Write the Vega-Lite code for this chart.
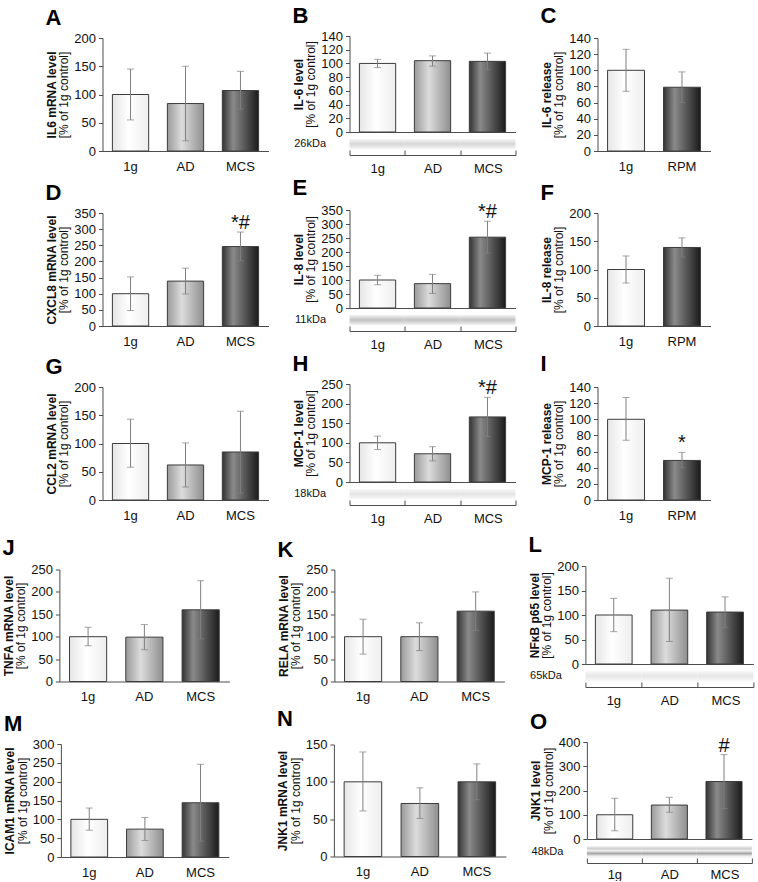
{
  "$schema": "https://vega.github.io/schema/vega-lite/v6.json",
  "background": "white",
  "padding": {"left": 2, "right": 2, "top": 5, "bottom": 0},
  "data": {"name": "d"},
  "datasets": {
    "d": [
      {"p": "A", "g": "1g", "m": 100, "lo": 55, "hi": 145},
      {"p": "A", "g": "AD", "m": 84, "lo": 18, "hi": 150},
      {"p": "A", "g": "MCS", "m": 107, "lo": 74, "hi": 141},
      {"p": "B", "g": "1g", "m": 100, "lo": 94, "hi": 106, "kd": "26kDa"},
      {"p": "B", "g": "AD", "m": 104, "lo": 96, "hi": 111, "kd": "26kDa"},
      {"p": "B", "g": "MCS", "m": 103, "lo": 91, "hi": 115, "kd": "26kDa"},
      {"p": "C", "g": "1g", "m": 100, "lo": 74, "hi": 126},
      {"p": "C", "g": "RPM", "m": 79, "lo": 60, "hi": 98},
      {"p": "D", "g": "1g", "m": 100, "lo": 48, "hi": 152},
      {"p": "D", "g": "AD", "m": 139, "lo": 99, "hi": 179},
      {"p": "D", "g": "MCS", "m": 246, "lo": 202, "hi": 291, "s": "*#"},
      {"p": "E", "g": "1g", "m": 100, "lo": 83, "hi": 117, "kd": "11kDa"},
      {"p": "E", "g": "AD", "m": 87, "lo": 52, "hi": 120, "kd": "11kDa"},
      {"p": "E", "g": "MCS", "m": 253, "lo": 196, "hi": 310, "s": "*#", "kd": "11kDa"},
      {"p": "F", "g": "1g", "m": 100, "lo": 76, "hi": 124},
      {"p": "F", "g": "RPM", "m": 139, "lo": 122, "hi": 156},
      {"p": "G", "g": "1g", "m": 100, "lo": 58, "hi": 143},
      {"p": "G", "g": "AD", "m": 62, "lo": 23, "hi": 101},
      {"p": "G", "g": "MCS", "m": 85, "lo": 12, "hi": 157},
      {"p": "H", "g": "1g", "m": 100, "lo": 83, "hi": 117, "kd": "18kDa"},
      {"p": "H", "g": "AD", "m": 72, "lo": 54, "hi": 90, "kd": "18kDa"},
      {"p": "H", "g": "MCS", "m": 166, "lo": 116, "hi": 216, "s": "*#", "kd": "18kDa"},
      {"p": "I", "g": "1g", "m": 100, "lo": 74, "hi": 127},
      {"p": "I", "g": "RPM", "m": 49, "lo": 40, "hi": 59, "s": "*"},
      {"p": "J", "g": "1g", "m": 100, "lo": 80, "hi": 121},
      {"p": "J", "g": "AD", "m": 99, "lo": 71, "hi": 127},
      {"p": "J", "g": "MCS", "m": 160, "lo": 95, "hi": 225},
      {"p": "K", "g": "1g", "m": 100, "lo": 61, "hi": 139},
      {"p": "K", "g": "AD", "m": 100, "lo": 69, "hi": 131},
      {"p": "K", "g": "MCS", "m": 157, "lo": 114, "hi": 200},
      {"p": "L", "g": "1g", "m": 100, "lo": 66, "hi": 134, "kd": "65kDa"},
      {"p": "L", "g": "AD", "m": 110, "lo": 46, "hi": 175, "kd": "65kDa"},
      {"p": "L", "g": "MCS", "m": 106, "lo": 75, "hi": 137, "kd": "65kDa"},
      {"p": "M", "g": "1g", "m": 100, "lo": 71, "hi": 130},
      {"p": "M", "g": "AD", "m": 74, "lo": 44, "hi": 105},
      {"p": "M", "g": "MCS", "m": 144, "lo": 42, "hi": 246},
      {"p": "N", "g": "1g", "m": 100, "lo": 61, "hi": 140},
      {"p": "N", "g": "AD", "m": 71, "lo": 51, "hi": 92},
      {"p": "N", "g": "MCS", "m": 100, "lo": 76, "hi": 124},
      {"p": "O", "g": "1g", "m": 100, "lo": 34, "hi": 168, "kd": "48kDa"},
      {"p": "O", "g": "AD", "m": 140, "lo": 110, "hi": 172, "kd": "48kDa"},
      {"p": "O", "g": "MCS", "m": 237, "lo": 126, "hi": 348, "s": "#", "kd": "48kDa"}
    ]
  },
  "config": {
    "font": "Liberation Sans",
    "view": {"stroke": null},
    "axis": {"labelFont": "Liberation Sans", "titleFont": "Liberation Sans", "labelFontSize": 13, "labelColor": "#111111", "titleColor": "#111111", "titleFontSize": 12, "domainColor": "#4d4d4d", "tickColor": "#4d4d4d", "grid": false},
    "axisX": {"ticks": false, "labelAngle": 0, "labelPadding": 9},
    "axisY": {"tickSize": 4, "titleFontWeight": "normal", "titlePadding": 3, "labelPadding": 3},
    "title": {"font": "Liberation Sans", "fontSize": 22, "fontWeight": "bold", "anchor": "start", "frame": "bounds", "color": "#000000", "offset": 2},
    "text": {"font": "Liberation Sans", "fontSize": 20, "color": "#111111"}
  },
  "spacing": 9,
  "center": true,
  "vconcat": [
    {
      "spacing": 2,
      "center": true,
      "vconcat": [
        {
          "spacing": 24,
          "center": true,
          "hconcat": [
            {"title": "A", "vconcat": [{
              "width": 166, "height": 113,
              "transform": [{"filter": "datum.p === 'A'"}],
              "encoding": {"x": {"field": "g", "type": "nominal", "sort": null, "title": null, "scale": {"paddingInner": 0.34, "paddingOuter": 0.18}}},
              "layer": [
                {"mark": {"type": "bar", "stroke": "#3c3c3c", "strokeWidth": 1}, "encoding": {
                  "y": {"field": "m", "type": "quantitative", "scale": {"domain": [0, 200]}, "axis": {"orient": "left", "values": [0, 50, 100, 150, 200], "title": "[% of 1g control]"}},
                  "fill": {"condition": [
                    {"test": "datum.g === '1g'", "value": {"gradient": "linear", "x1": 0, "y1": 0, "x2": 1, "y2": 0, "stops": [{"offset": 0, "color": "#e6e6e6"}, {"offset": 0.45, "color": "#ffffff"}, {"offset": 1, "color": "#eeeeee"}]}},
                    {"test": "datum.g === 'AD'", "value": {"gradient": "linear", "x1": 0, "y1": 0, "x2": 1, "y2": 0, "stops": [{"offset": 0, "color": "#9a9a9a"}, {"offset": 0.4, "color": "#dcdcdc"}, {"offset": 1, "color": "#8f8f8f"}]}}],
                    "value": {"gradient": "linear", "x1": 0, "y1": 0, "x2": 1, "y2": 0, "stops": [{"offset": 0, "color": "#333333"}, {"offset": 0.3, "color": "#8a8a8a"}, {"offset": 1, "color": "#1a1a1a"}]}}}},
                {"mark": {"type": "errorbar", "color": "#808080", "ticks": {"size": 7}}, "encoding": {"y": {"field": "lo", "type": "quantitative", "scale": {"domain": [0, 200]}, "axis": null}, "y2": {"field": "hi"}}},
                {"mark": {"type": "text", "dy": -3, "baseline": "alphabetic"}, "encoding": {
                  "y": {"field": "hi", "type": "quantitative", "scale": {"domain": [0, 200]}, "axis": {"orient": "left", "title": "IL6 mRNA level", "titleFontWeight": "bold", "labels": false, "ticks": false, "domain": false, "offset": 44, "titlePadding": 0}},
                  "text": {"condition": {"test": "isValid(datum.s)", "field": "s", "type": "nominal"}, "value": ""}}}
              ],
              "resolve": {"axis": {"y": "independent"}}
            }]},
            {"title": "B", "spacing": -3, "vconcat": [
              {
                "width": 166, "height": 96,
                "transform": [{"filter": "datum.p === 'B'"}],
                "encoding": {"x": {"field": "g", "type": "nominal", "sort": null, "title": null, "scale": {"paddingInner": 0.34, "paddingOuter": 0.18}, "axis": {"labels": false, "labelPadding": 0, "minExtent": 0, "maxExtent": 0}}},
                "layer": [
                  {"mark": {"type": "bar", "stroke": "#3c3c3c", "strokeWidth": 1}, "encoding": {
                    "y": {"field": "m", "type": "quantitative", "scale": {"domain": [0, 140]}, "axis": {"orient": "left", "values": [0, 20, 40, 60, 80, 100, 120, 140], "title": "[% of 1g control]"}},
                    "fill": {"condition": [
                      {"test": "datum.g === '1g'", "value": {"gradient": "linear", "x1": 0, "y1": 0, "x2": 1, "y2": 0, "stops": [{"offset": 0, "color": "#e6e6e6"}, {"offset": 0.45, "color": "#ffffff"}, {"offset": 1, "color": "#eeeeee"}]}},
                      {"test": "datum.g === 'AD'", "value": {"gradient": "linear", "x1": 0, "y1": 0, "x2": 1, "y2": 0, "stops": [{"offset": 0, "color": "#9a9a9a"}, {"offset": 0.4, "color": "#dcdcdc"}, {"offset": 1, "color": "#8f8f8f"}]}}],
                      "value": {"gradient": "linear", "x1": 0, "y1": 0, "x2": 1, "y2": 0, "stops": [{"offset": 0, "color": "#333333"}, {"offset": 0.3, "color": "#8a8a8a"}, {"offset": 1, "color": "#1a1a1a"}]}}}},
                  {"mark": {"type": "errorbar", "color": "#808080", "ticks": {"size": 7}}, "encoding": {"y": {"field": "lo", "type": "quantitative", "scale": {"domain": [0, 140]}, "axis": null}, "y2": {"field": "hi"}}},
                  {"mark": {"type": "text", "dy": -3, "baseline": "alphabetic"}, "encoding": {
                    "y": {"field": "hi", "type": "quantitative", "scale": {"domain": [0, 140]}, "axis": {"orient": "left", "title": "IL-6 level", "titleFontWeight": "bold", "labels": false, "ticks": false, "domain": false, "offset": 44, "titlePadding": 0}},
                    "text": {"condition": {"test": "isValid(datum.s)", "field": "s", "type": "nominal"}, "value": ""}}}
                ],
                "resolve": {"axis": {"y": "independent"}}
              },
              {
                "width": 166, "height": 10,
                "transform": [{"filter": "datum.p === 'B'"}],
                "mark": {"type": "rect", "fill": {"gradient": "linear", "x1": 0, "y1": 0, "x2": 0, "y2": 1, "stops": [{"offset": 0, "color": "#f6f6f6"}, {"offset": 0.5, "color": "#d6d6d6"}, {"offset": 1, "color": "#f6f6f6"}]}},
                "encoding": {
                  "x": {"field": "g", "type": "nominal", "sort": null, "title": null, "scale": {"paddingInner": 0, "paddingOuter": 0}, "axis": {"tickBand": "extent", "ticks": true, "tickSize": -5, "offset": 6, "labelPadding": 12}},
                  "y": {"field": "kd", "type": "nominal", "title": null, "axis": {"ticks": false, "domain": false, "labelFontSize": 11, "labelPadding": 24}}
                }
              }
            ]},
            {"title": "C", "vconcat": [{
              "width": 113, "height": 113,
              "transform": [{"filter": "datum.p === 'C'"}],
              "encoding": {"x": {"field": "g", "type": "nominal", "sort": null, "title": null, "scale": {"paddingInner": 0.34, "paddingOuter": 0.18}}},
              "layer": [
                {"mark": {"type": "bar", "stroke": "#3c3c3c", "strokeWidth": 1}, "encoding": {
                  "y": {"field": "m", "type": "quantitative", "scale": {"domain": [0, 140]}, "axis": {"orient": "left", "values": [0, 20, 40, 60, 80, 100, 120, 140], "title": "[% of 1g control]"}},
                  "fill": {"condition": [
                    {"test": "datum.g === '1g'", "value": {"gradient": "linear", "x1": 0, "y1": 0, "x2": 1, "y2": 0, "stops": [{"offset": 0, "color": "#e6e6e6"}, {"offset": 0.45, "color": "#ffffff"}, {"offset": 1, "color": "#eeeeee"}]}},
                    {"test": "datum.g === 'AD'", "value": {"gradient": "linear", "x1": 0, "y1": 0, "x2": 1, "y2": 0, "stops": [{"offset": 0, "color": "#9a9a9a"}, {"offset": 0.4, "color": "#dcdcdc"}, {"offset": 1, "color": "#8f8f8f"}]}}],
                    "value": {"gradient": "linear", "x1": 0, "y1": 0, "x2": 1, "y2": 0, "stops": [{"offset": 0, "color": "#333333"}, {"offset": 0.3, "color": "#8a8a8a"}, {"offset": 1, "color": "#1a1a1a"}]}}}},
                {"mark": {"type": "errorbar", "color": "#808080", "ticks": {"size": 7}}, "encoding": {"y": {"field": "lo", "type": "quantitative", "scale": {"domain": [0, 140]}, "axis": null}, "y2": {"field": "hi"}}},
                {"mark": {"type": "text", "dy": -3, "baseline": "alphabetic"}, "encoding": {
                  "y": {"field": "hi", "type": "quantitative", "scale": {"domain": [0, 140]}, "axis": {"orient": "left", "title": "IL-6 release", "titleFontWeight": "bold", "labels": false, "ticks": false, "domain": false, "offset": 44, "titlePadding": 0}},
                  "text": {"condition": {"test": "isValid(datum.s)", "field": "s", "type": "nominal"}, "value": ""}}}
              ],
              "resolve": {"axis": {"y": "independent"}}
            }]}
          ]
        },
        {
          "spacing": 24,
          "center": true,
          "hconcat": [
            {"title": "D", "vconcat": [{
              "width": 166, "height": 113,
              "transform": [{"filter": "datum.p === 'D'"}],
              "encoding": {"x": {"field": "g", "type": "nominal", "sort": null, "title": null, "scale": {"paddingInner": 0.34, "paddingOuter": 0.18}}},
              "layer": [
                {"mark": {"type": "bar", "stroke": "#3c3c3c", "strokeWidth": 1}, "encoding": {
                  "y": {"field": "m", "type": "quantitative", "scale": {"domain": [0, 350]}, "axis": {"orient": "left", "values": [0, 50, 100, 150, 200, 250, 300, 350], "title": "[% of 1g control]"}},
                  "fill": {"condition": [
                    {"test": "datum.g === '1g'", "value": {"gradient": "linear", "x1": 0, "y1": 0, "x2": 1, "y2": 0, "stops": [{"offset": 0, "color": "#e6e6e6"}, {"offset": 0.45, "color": "#ffffff"}, {"offset": 1, "color": "#eeeeee"}]}},
                    {"test": "datum.g === 'AD'", "value": {"gradient": "linear", "x1": 0, "y1": 0, "x2": 1, "y2": 0, "stops": [{"offset": 0, "color": "#9a9a9a"}, {"offset": 0.4, "color": "#dcdcdc"}, {"offset": 1, "color": "#8f8f8f"}]}}],
                    "value": {"gradient": "linear", "x1": 0, "y1": 0, "x2": 1, "y2": 0, "stops": [{"offset": 0, "color": "#333333"}, {"offset": 0.3, "color": "#8a8a8a"}, {"offset": 1, "color": "#1a1a1a"}]}}}},
                {"mark": {"type": "errorbar", "color": "#808080", "ticks": {"size": 7}}, "encoding": {"y": {"field": "lo", "type": "quantitative", "scale": {"domain": [0, 350]}, "axis": null}, "y2": {"field": "hi"}}},
                {"mark": {"type": "text", "dy": -3, "baseline": "alphabetic"}, "encoding": {
                  "y": {"field": "hi", "type": "quantitative", "scale": {"domain": [0, 350]}, "axis": {"orient": "left", "title": "CXCL8 mRNA level", "titleFontWeight": "bold", "labels": false, "ticks": false, "domain": false, "offset": 44, "titlePadding": 0}},
                  "text": {"condition": {"test": "isValid(datum.s)", "field": "s", "type": "nominal"}, "value": ""}}}
              ],
              "resolve": {"axis": {"y": "independent"}}
            }]},
            {"title": "E", "spacing": -3, "vconcat": [
              {
                "width": 166, "height": 98,
                "transform": [{"filter": "datum.p === 'E'"}],
                "encoding": {"x": {"field": "g", "type": "nominal", "sort": null, "title": null, "scale": {"paddingInner": 0.34, "paddingOuter": 0.18}, "axis": {"labels": false, "labelPadding": 0, "minExtent": 0, "maxExtent": 0}}},
                "layer": [
                  {"mark": {"type": "bar", "stroke": "#3c3c3c", "strokeWidth": 1}, "encoding": {
                    "y": {"field": "m", "type": "quantitative", "scale": {"domain": [0, 350]}, "axis": {"orient": "left", "values": [0, 50, 100, 150, 200, 250, 300, 350], "title": "[% of 1g control]"}},
                    "fill": {"condition": [
                      {"test": "datum.g === '1g'", "value": {"gradient": "linear", "x1": 0, "y1": 0, "x2": 1, "y2": 0, "stops": [{"offset": 0, "color": "#e6e6e6"}, {"offset": 0.45, "color": "#ffffff"}, {"offset": 1, "color": "#eeeeee"}]}},
                      {"test": "datum.g === 'AD'", "value": {"gradient": "linear", "x1": 0, "y1": 0, "x2": 1, "y2": 0, "stops": [{"offset": 0, "color": "#9a9a9a"}, {"offset": 0.4, "color": "#dcdcdc"}, {"offset": 1, "color": "#8f8f8f"}]}}],
                      "value": {"gradient": "linear", "x1": 0, "y1": 0, "x2": 1, "y2": 0, "stops": [{"offset": 0, "color": "#333333"}, {"offset": 0.3, "color": "#8a8a8a"}, {"offset": 1, "color": "#1a1a1a"}]}}}},
                  {"mark": {"type": "errorbar", "color": "#808080", "ticks": {"size": 7}}, "encoding": {"y": {"field": "lo", "type": "quantitative", "scale": {"domain": [0, 350]}, "axis": null}, "y2": {"field": "hi"}}},
                  {"mark": {"type": "text", "dy": -3, "baseline": "alphabetic"}, "encoding": {
                    "y": {"field": "hi", "type": "quantitative", "scale": {"domain": [0, 350]}, "axis": {"orient": "left", "title": "IL-8 level", "titleFontWeight": "bold", "labels": false, "ticks": false, "domain": false, "offset": 44, "titlePadding": 0}},
                    "text": {"condition": {"test": "isValid(datum.s)", "field": "s", "type": "nominal"}, "value": ""}}}
                ],
                "resolve": {"axis": {"y": "independent"}}
              },
              {
                "width": 166, "height": 10,
                "transform": [{"filter": "datum.p === 'E'"}],
                "mark": {"type": "rect", "fill": {"gradient": "linear", "x1": 0, "y1": 0, "x2": 0, "y2": 1, "stops": [{"offset": 0, "color": "#f3f3f3"}, {"offset": 0.5, "color": "#c2c2c2"}, {"offset": 1, "color": "#f3f3f3"}]}},
                "encoding": {
                  "x": {"field": "g", "type": "nominal", "sort": null, "title": null, "scale": {"paddingInner": 0, "paddingOuter": 0}, "axis": {"tickBand": "extent", "ticks": true, "tickSize": -5, "offset": 6, "labelPadding": 12}},
                  "y": {"field": "kd", "type": "nominal", "title": null, "axis": {"ticks": false, "domain": false, "labelFontSize": 11, "labelPadding": 24}}
                }
              }
            ]},
            {"title": "F", "vconcat": [{
              "width": 113, "height": 113,
              "transform": [{"filter": "datum.p === 'F'"}],
              "encoding": {"x": {"field": "g", "type": "nominal", "sort": null, "title": null, "scale": {"paddingInner": 0.34, "paddingOuter": 0.18}}},
              "layer": [
                {"mark": {"type": "bar", "stroke": "#3c3c3c", "strokeWidth": 1}, "encoding": {
                  "y": {"field": "m", "type": "quantitative", "scale": {"domain": [0, 200]}, "axis": {"orient": "left", "values": [0, 50, 100, 150, 200], "title": "[% of 1g control]"}},
                  "fill": {"condition": [
                    {"test": "datum.g === '1g'", "value": {"gradient": "linear", "x1": 0, "y1": 0, "x2": 1, "y2": 0, "stops": [{"offset": 0, "color": "#e6e6e6"}, {"offset": 0.45, "color": "#ffffff"}, {"offset": 1, "color": "#eeeeee"}]}},
                    {"test": "datum.g === 'AD'", "value": {"gradient": "linear", "x1": 0, "y1": 0, "x2": 1, "y2": 0, "stops": [{"offset": 0, "color": "#9a9a9a"}, {"offset": 0.4, "color": "#dcdcdc"}, {"offset": 1, "color": "#8f8f8f"}]}}],
                    "value": {"gradient": "linear", "x1": 0, "y1": 0, "x2": 1, "y2": 0, "stops": [{"offset": 0, "color": "#333333"}, {"offset": 0.3, "color": "#8a8a8a"}, {"offset": 1, "color": "#1a1a1a"}]}}}},
                {"mark": {"type": "errorbar", "color": "#808080", "ticks": {"size": 7}}, "encoding": {"y": {"field": "lo", "type": "quantitative", "scale": {"domain": [0, 200]}, "axis": null}, "y2": {"field": "hi"}}},
                {"mark": {"type": "text", "dy": -3, "baseline": "alphabetic"}, "encoding": {
                  "y": {"field": "hi", "type": "quantitative", "scale": {"domain": [0, 200]}, "axis": {"orient": "left", "title": "IL-8 release", "titleFontWeight": "bold", "labels": false, "ticks": false, "domain": false, "offset": 44, "titlePadding": 0}},
                  "text": {"condition": {"test": "isValid(datum.s)", "field": "s", "type": "nominal"}, "value": ""}}}
              ],
              "resolve": {"axis": {"y": "independent"}}
            }]}
          ]
        },
        {
          "spacing": 24,
          "center": true,
          "hconcat": [
            {"title": "G", "vconcat": [{
              "width": 166, "height": 113,
              "transform": [{"filter": "datum.p === 'G'"}],
              "encoding": {"x": {"field": "g", "type": "nominal", "sort": null, "title": null, "scale": {"paddingInner": 0.34, "paddingOuter": 0.18}}},
              "layer": [
                {"mark": {"type": "bar", "stroke": "#3c3c3c", "strokeWidth": 1}, "encoding": {
                  "y": {"field": "m", "type": "quantitative", "scale": {"domain": [0, 200]}, "axis": {"orient": "left", "values": [0, 50, 100, 150, 200], "title": "[% of 1g control]"}},
                  "fill": {"condition": [
                    {"test": "datum.g === '1g'", "value": {"gradient": "linear", "x1": 0, "y1": 0, "x2": 1, "y2": 0, "stops": [{"offset": 0, "color": "#e6e6e6"}, {"offset": 0.45, "color": "#ffffff"}, {"offset": 1, "color": "#eeeeee"}]}},
                    {"test": "datum.g === 'AD'", "value": {"gradient": "linear", "x1": 0, "y1": 0, "x2": 1, "y2": 0, "stops": [{"offset": 0, "color": "#9a9a9a"}, {"offset": 0.4, "color": "#dcdcdc"}, {"offset": 1, "color": "#8f8f8f"}]}}],
                    "value": {"gradient": "linear", "x1": 0, "y1": 0, "x2": 1, "y2": 0, "stops": [{"offset": 0, "color": "#333333"}, {"offset": 0.3, "color": "#8a8a8a"}, {"offset": 1, "color": "#1a1a1a"}]}}}},
                {"mark": {"type": "errorbar", "color": "#808080", "ticks": {"size": 7}}, "encoding": {"y": {"field": "lo", "type": "quantitative", "scale": {"domain": [0, 200]}, "axis": null}, "y2": {"field": "hi"}}},
                {"mark": {"type": "text", "dy": -3, "baseline": "alphabetic"}, "encoding": {
                  "y": {"field": "hi", "type": "quantitative", "scale": {"domain": [0, 200]}, "axis": {"orient": "left", "title": "CCL2 mRNA level", "titleFontWeight": "bold", "labels": false, "ticks": false, "domain": false, "offset": 44, "titlePadding": 0}},
                  "text": {"condition": {"test": "isValid(datum.s)", "field": "s", "type": "nominal"}, "value": ""}}}
              ],
              "resolve": {"axis": {"y": "independent"}}
            }]},
            {"title": "H", "spacing": -3, "vconcat": [
              {
                "width": 166, "height": 98,
                "transform": [{"filter": "datum.p === 'H'"}],
                "encoding": {"x": {"field": "g", "type": "nominal", "sort": null, "title": null, "scale": {"paddingInner": 0.34, "paddingOuter": 0.18}, "axis": {"labels": false, "labelPadding": 0, "minExtent": 0, "maxExtent": 0}}},
                "layer": [
                  {"mark": {"type": "bar", "stroke": "#3c3c3c", "strokeWidth": 1}, "encoding": {
                    "y": {"field": "m", "type": "quantitative", "scale": {"domain": [0, 250]}, "axis": {"orient": "left", "values": [0, 50, 100, 150, 200, 250], "title": "[% of 1g control]"}},
                    "fill": {"condition": [
                      {"test": "datum.g === '1g'", "value": {"gradient": "linear", "x1": 0, "y1": 0, "x2": 1, "y2": 0, "stops": [{"offset": 0, "color": "#e6e6e6"}, {"offset": 0.45, "color": "#ffffff"}, {"offset": 1, "color": "#eeeeee"}]}},
                      {"test": "datum.g === 'AD'", "value": {"gradient": "linear", "x1": 0, "y1": 0, "x2": 1, "y2": 0, "stops": [{"offset": 0, "color": "#9a9a9a"}, {"offset": 0.4, "color": "#dcdcdc"}, {"offset": 1, "color": "#8f8f8f"}]}}],
                      "value": {"gradient": "linear", "x1": 0, "y1": 0, "x2": 1, "y2": 0, "stops": [{"offset": 0, "color": "#333333"}, {"offset": 0.3, "color": "#8a8a8a"}, {"offset": 1, "color": "#1a1a1a"}]}}}},
                  {"mark": {"type": "errorbar", "color": "#808080", "ticks": {"size": 7}}, "encoding": {"y": {"field": "lo", "type": "quantitative", "scale": {"domain": [0, 250]}, "axis": null}, "y2": {"field": "hi"}}},
                  {"mark": {"type": "text", "dy": -3, "baseline": "alphabetic"}, "encoding": {
                    "y": {"field": "hi", "type": "quantitative", "scale": {"domain": [0, 250]}, "axis": {"orient": "left", "title": "MCP-1 level", "titleFontWeight": "bold", "labels": false, "ticks": false, "domain": false, "offset": 44, "titlePadding": 0}},
                    "text": {"condition": {"test": "isValid(datum.s)", "field": "s", "type": "nominal"}, "value": ""}}}
                ],
                "resolve": {"axis": {"y": "independent"}}
              },
              {
                "width": 166, "height": 10,
                "transform": [{"filter": "datum.p === 'H'"}],
                "mark": {"type": "rect", "fill": {"gradient": "linear", "x1": 0, "y1": 0, "x2": 0, "y2": 1, "stops": [{"offset": 0, "color": "#f8f8f8"}, {"offset": 0.5, "color": "#e4e4e4"}, {"offset": 1, "color": "#f8f8f8"}]}},
                "encoding": {
                  "x": {"field": "g", "type": "nominal", "sort": null, "title": null, "scale": {"paddingInner": 0, "paddingOuter": 0}, "axis": {"tickBand": "extent", "ticks": true, "tickSize": -5, "offset": 6, "labelPadding": 12}},
                  "y": {"field": "kd", "type": "nominal", "title": null, "axis": {"ticks": false, "domain": false, "labelFontSize": 11, "labelPadding": 24}}
                }
              }
            ]},
            {"title": "I", "vconcat": [{
              "width": 113, "height": 113,
              "transform": [{"filter": "datum.p === 'I'"}],
              "encoding": {"x": {"field": "g", "type": "nominal", "sort": null, "title": null, "scale": {"paddingInner": 0.34, "paddingOuter": 0.18}}},
              "layer": [
                {"mark": {"type": "bar", "stroke": "#3c3c3c", "strokeWidth": 1}, "encoding": {
                  "y": {"field": "m", "type": "quantitative", "scale": {"domain": [0, 140]}, "axis": {"orient": "left", "values": [0, 20, 40, 60, 80, 100, 120, 140], "title": "[% of 1g control]"}},
                  "fill": {"condition": [
                    {"test": "datum.g === '1g'", "value": {"gradient": "linear", "x1": 0, "y1": 0, "x2": 1, "y2": 0, "stops": [{"offset": 0, "color": "#e6e6e6"}, {"offset": 0.45, "color": "#ffffff"}, {"offset": 1, "color": "#eeeeee"}]}},
                    {"test": "datum.g === 'AD'", "value": {"gradient": "linear", "x1": 0, "y1": 0, "x2": 1, "y2": 0, "stops": [{"offset": 0, "color": "#9a9a9a"}, {"offset": 0.4, "color": "#dcdcdc"}, {"offset": 1, "color": "#8f8f8f"}]}}],
                    "value": {"gradient": "linear", "x1": 0, "y1": 0, "x2": 1, "y2": 0, "stops": [{"offset": 0, "color": "#333333"}, {"offset": 0.3, "color": "#8a8a8a"}, {"offset": 1, "color": "#1a1a1a"}]}}}},
                {"mark": {"type": "errorbar", "color": "#808080", "ticks": {"size": 7}}, "encoding": {"y": {"field": "lo", "type": "quantitative", "scale": {"domain": [0, 140]}, "axis": null}, "y2": {"field": "hi"}}},
                {"mark": {"type": "text", "dy": -3, "baseline": "alphabetic"}, "encoding": {
                  "y": {"field": "hi", "type": "quantitative", "scale": {"domain": [0, 140]}, "axis": {"orient": "left", "title": "MCP-1 release", "titleFontWeight": "bold", "labels": false, "ticks": false, "domain": false, "offset": 44, "titlePadding": 0}},
                  "text": {"condition": {"test": "isValid(datum.s)", "field": "s", "type": "nominal"}, "value": ""}}}
              ],
              "resolve": {"axis": {"y": "independent"}}
            }]}
          ]
        }
      ]
    },
    {
      "spacing": 0,
      "center": true,
      "vconcat": [
        {
          "spacing": 48,
          "center": true,
          "hconcat": [
            {"title": "J", "vconcat": [{
              "width": 170, "height": 112,
              "transform": [{"filter": "datum.p === 'J'"}],
              "encoding": {"x": {"field": "g", "type": "nominal", "sort": null, "title": null, "scale": {"paddingInner": 0.34, "paddingOuter": 0.18}}},
              "layer": [
                {"mark": {"type": "bar", "stroke": "#3c3c3c", "strokeWidth": 1}, "encoding": {
                  "y": {"field": "m", "type": "quantitative", "scale": {"domain": [0, 250]}, "axis": {"orient": "left", "values": [0, 50, 100, 150, 200, 250], "title": "[% of 1g control]"}},
                  "fill": {"condition": [
                    {"test": "datum.g === '1g'", "value": {"gradient": "linear", "x1": 0, "y1": 0, "x2": 1, "y2": 0, "stops": [{"offset": 0, "color": "#e6e6e6"}, {"offset": 0.45, "color": "#ffffff"}, {"offset": 1, "color": "#eeeeee"}]}},
                    {"test": "datum.g === 'AD'", "value": {"gradient": "linear", "x1": 0, "y1": 0, "x2": 1, "y2": 0, "stops": [{"offset": 0, "color": "#9a9a9a"}, {"offset": 0.4, "color": "#dcdcdc"}, {"offset": 1, "color": "#8f8f8f"}]}}],
                    "value": {"gradient": "linear", "x1": 0, "y1": 0, "x2": 1, "y2": 0, "stops": [{"offset": 0, "color": "#333333"}, {"offset": 0.3, "color": "#8a8a8a"}, {"offset": 1, "color": "#1a1a1a"}]}}}},
                {"mark": {"type": "errorbar", "color": "#808080", "ticks": {"size": 7}}, "encoding": {"y": {"field": "lo", "type": "quantitative", "scale": {"domain": [0, 250]}, "axis": null}, "y2": {"field": "hi"}}},
                {"mark": {"type": "text", "dy": -3, "baseline": "alphabetic"}, "encoding": {
                  "y": {"field": "hi", "type": "quantitative", "scale": {"domain": [0, 250]}, "axis": {"orient": "left", "title": "TNFA mRNA level", "titleFontWeight": "bold", "labels": false, "ticks": false, "domain": false, "offset": 44, "titlePadding": 0}},
                  "text": {"condition": {"test": "isValid(datum.s)", "field": "s", "type": "nominal"}, "value": ""}}}
              ],
              "resolve": {"axis": {"y": "independent"}}
            }]},
            {
              "spacing": 24,
              "center": true,
              "hconcat": [
                {"title": "K", "vconcat": [{
                  "width": 170, "height": 112,
                  "transform": [{"filter": "datum.p === 'K'"}],
                  "encoding": {"x": {"field": "g", "type": "nominal", "sort": null, "title": null, "scale": {"paddingInner": 0.34, "paddingOuter": 0.18}}},
                  "layer": [
                    {"mark": {"type": "bar", "stroke": "#3c3c3c", "strokeWidth": 1}, "encoding": {
                      "y": {"field": "m", "type": "quantitative", "scale": {"domain": [0, 250]}, "axis": {"orient": "left", "values": [0, 50, 100, 150, 200, 250], "title": "[% of 1g control]"}},
                      "fill": {"condition": [
                        {"test": "datum.g === '1g'", "value": {"gradient": "linear", "x1": 0, "y1": 0, "x2": 1, "y2": 0, "stops": [{"offset": 0, "color": "#e6e6e6"}, {"offset": 0.45, "color": "#ffffff"}, {"offset": 1, "color": "#eeeeee"}]}},
                        {"test": "datum.g === 'AD'", "value": {"gradient": "linear", "x1": 0, "y1": 0, "x2": 1, "y2": 0, "stops": [{"offset": 0, "color": "#9a9a9a"}, {"offset": 0.4, "color": "#dcdcdc"}, {"offset": 1, "color": "#8f8f8f"}]}}],
                        "value": {"gradient": "linear", "x1": 0, "y1": 0, "x2": 1, "y2": 0, "stops": [{"offset": 0, "color": "#333333"}, {"offset": 0.3, "color": "#8a8a8a"}, {"offset": 1, "color": "#1a1a1a"}]}}}},
                    {"mark": {"type": "errorbar", "color": "#808080", "ticks": {"size": 7}}, "encoding": {"y": {"field": "lo", "type": "quantitative", "scale": {"domain": [0, 250]}, "axis": null}, "y2": {"field": "hi"}}},
                    {"mark": {"type": "text", "dy": -3, "baseline": "alphabetic"}, "encoding": {
                      "y": {"field": "hi", "type": "quantitative", "scale": {"domain": [0, 250]}, "axis": {"orient": "left", "title": "RELA mRNA level", "titleFontWeight": "bold", "labels": false, "ticks": false, "domain": false, "offset": 44, "titlePadding": 0}},
                      "text": {"condition": {"test": "isValid(datum.s)", "field": "s", "type": "nominal"}, "value": ""}}}
                  ],
                  "resolve": {"axis": {"y": "independent"}}
                }]},
                {"title": "L", "spacing": -3, "vconcat": [
                  {
                    "width": 168, "height": 98,
                    "transform": [{"filter": "datum.p === 'L'"}],
                    "encoding": {"x": {"field": "g", "type": "nominal", "sort": null, "title": null, "scale": {"paddingInner": 0.34, "paddingOuter": 0.18}, "axis": {"labels": false, "labelPadding": 0, "minExtent": 0, "maxExtent": 0}}},
                    "layer": [
                      {"mark": {"type": "bar", "stroke": "#3c3c3c", "strokeWidth": 1}, "encoding": {
                        "y": {"field": "m", "type": "quantitative", "scale": {"domain": [0, 200]}, "axis": {"orient": "left", "values": [0, 50, 100, 150, 200], "title": "[% of 1g control]"}},
                        "fill": {"condition": [
                          {"test": "datum.g === '1g'", "value": {"gradient": "linear", "x1": 0, "y1": 0, "x2": 1, "y2": 0, "stops": [{"offset": 0, "color": "#e6e6e6"}, {"offset": 0.45, "color": "#ffffff"}, {"offset": 1, "color": "#eeeeee"}]}},
                          {"test": "datum.g === 'AD'", "value": {"gradient": "linear", "x1": 0, "y1": 0, "x2": 1, "y2": 0, "stops": [{"offset": 0, "color": "#9a9a9a"}, {"offset": 0.4, "color": "#dcdcdc"}, {"offset": 1, "color": "#8f8f8f"}]}}],
                          "value": {"gradient": "linear", "x1": 0, "y1": 0, "x2": 1, "y2": 0, "stops": [{"offset": 0, "color": "#333333"}, {"offset": 0.3, "color": "#8a8a8a"}, {"offset": 1, "color": "#1a1a1a"}]}}}},
                      {"mark": {"type": "errorbar", "color": "#808080", "ticks": {"size": 7}}, "encoding": {"y": {"field": "lo", "type": "quantitative", "scale": {"domain": [0, 200]}, "axis": null}, "y2": {"field": "hi"}}},
                      {"mark": {"type": "text", "dy": -3, "baseline": "alphabetic"}, "encoding": {
                        "y": {"field": "hi", "type": "quantitative", "scale": {"domain": [0, 200]}, "axis": {"orient": "left", "title": "NFκB p65 level", "titleFontWeight": "bold", "labels": false, "ticks": false, "domain": false, "offset": 44, "titlePadding": 0}},
                        "text": {"condition": {"test": "isValid(datum.s)", "field": "s", "type": "nominal"}, "value": ""}}}
                    ],
                    "resolve": {"axis": {"y": "independent"}}
                  },
                  {
                    "width": 168, "height": 10,
                    "transform": [{"filter": "datum.p === 'L'"}],
                    "mark": {"type": "rect", "fill": {"gradient": "linear", "x1": 0, "y1": 0, "x2": 0, "y2": 1, "stops": [{"offset": 0, "color": "#f8f8f8"}, {"offset": 0.5, "color": "#e6e6e6"}, {"offset": 1, "color": "#f8f8f8"}]}},
                    "encoding": {
                      "x": {"field": "g", "type": "nominal", "sort": null, "title": null, "scale": {"paddingInner": 0, "paddingOuter": 0}, "axis": {"tickBand": "extent", "ticks": true, "tickSize": -5, "offset": 6, "labelPadding": 12}},
                      "y": {"field": "kd", "type": "nominal", "title": null, "axis": {"ticks": false, "domain": false, "labelFontSize": 11, "labelPadding": 24}}
                    }
                  }
                ]}
              ]
            }
          ]
        },
        {
          "spacing": 48,
          "center": true,
          "hconcat": [
            {"title": "M", "vconcat": [{
              "width": 168, "height": 113,
              "transform": [{"filter": "datum.p === 'M'"}],
              "encoding": {"x": {"field": "g", "type": "nominal", "sort": null, "title": null, "scale": {"paddingInner": 0.34, "paddingOuter": 0.18}}},
              "layer": [
                {"mark": {"type": "bar", "stroke": "#3c3c3c", "strokeWidth": 1}, "encoding": {
                  "y": {"field": "m", "type": "quantitative", "scale": {"domain": [0, 300]}, "axis": {"orient": "left", "values": [0, 50, 100, 150, 200, 250, 300], "title": "[% of 1g control]"}},
                  "fill": {"condition": [
                    {"test": "datum.g === '1g'", "value": {"gradient": "linear", "x1": 0, "y1": 0, "x2": 1, "y2": 0, "stops": [{"offset": 0, "color": "#e6e6e6"}, {"offset": 0.45, "color": "#ffffff"}, {"offset": 1, "color": "#eeeeee"}]}},
                    {"test": "datum.g === 'AD'", "value": {"gradient": "linear", "x1": 0, "y1": 0, "x2": 1, "y2": 0, "stops": [{"offset": 0, "color": "#9a9a9a"}, {"offset": 0.4, "color": "#dcdcdc"}, {"offset": 1, "color": "#8f8f8f"}]}}],
                    "value": {"gradient": "linear", "x1": 0, "y1": 0, "x2": 1, "y2": 0, "stops": [{"offset": 0, "color": "#333333"}, {"offset": 0.3, "color": "#8a8a8a"}, {"offset": 1, "color": "#1a1a1a"}]}}}},
                {"mark": {"type": "errorbar", "color": "#808080", "ticks": {"size": 7}}, "encoding": {"y": {"field": "lo", "type": "quantitative", "scale": {"domain": [0, 300]}, "axis": null}, "y2": {"field": "hi"}}},
                {"mark": {"type": "text", "dy": -3, "baseline": "alphabetic"}, "encoding": {
                  "y": {"field": "hi", "type": "quantitative", "scale": {"domain": [0, 300]}, "axis": {"orient": "left", "title": "ICAM1 mRNA level", "titleFontWeight": "bold", "labels": false, "ticks": false, "domain": false, "offset": 44, "titlePadding": 0}},
                  "text": {"condition": {"test": "isValid(datum.s)", "field": "s", "type": "nominal"}, "value": ""}}}
              ],
              "resolve": {"axis": {"y": "independent"}}
            }]},
            {
              "spacing": 24,
              "center": true,
              "hconcat": [
                {"title": "N", "vconcat": [{
                  "width": 172, "height": 112,
                  "transform": [{"filter": "datum.p === 'N'"}],
                  "encoding": {"x": {"field": "g", "type": "nominal", "sort": null, "title": null, "scale": {"paddingInner": 0.34, "paddingOuter": 0.18}}},
                  "layer": [
                    {"mark": {"type": "bar", "stroke": "#3c3c3c", "strokeWidth": 1}, "encoding": {
                      "y": {"field": "m", "type": "quantitative", "scale": {"domain": [0, 150]}, "axis": {"orient": "left", "values": [0, 50, 100, 150], "title": "[% of 1g control]"}},
                      "fill": {"condition": [
                        {"test": "datum.g === '1g'", "value": {"gradient": "linear", "x1": 0, "y1": 0, "x2": 1, "y2": 0, "stops": [{"offset": 0, "color": "#e6e6e6"}, {"offset": 0.45, "color": "#ffffff"}, {"offset": 1, "color": "#eeeeee"}]}},
                        {"test": "datum.g === 'AD'", "value": {"gradient": "linear", "x1": 0, "y1": 0, "x2": 1, "y2": 0, "stops": [{"offset": 0, "color": "#9a9a9a"}, {"offset": 0.4, "color": "#dcdcdc"}, {"offset": 1, "color": "#8f8f8f"}]}}],
                        "value": {"gradient": "linear", "x1": 0, "y1": 0, "x2": 1, "y2": 0, "stops": [{"offset": 0, "color": "#333333"}, {"offset": 0.3, "color": "#8a8a8a"}, {"offset": 1, "color": "#1a1a1a"}]}}}},
                    {"mark": {"type": "errorbar", "color": "#808080", "ticks": {"size": 7}}, "encoding": {"y": {"field": "lo", "type": "quantitative", "scale": {"domain": [0, 150]}, "axis": null}, "y2": {"field": "hi"}}},
                    {"mark": {"type": "text", "dy": -3, "baseline": "alphabetic"}, "encoding": {
                      "y": {"field": "hi", "type": "quantitative", "scale": {"domain": [0, 150]}, "axis": {"orient": "left", "title": "JNK1 mRNA level", "titleFontWeight": "bold", "labels": false, "ticks": false, "domain": false, "offset": 44, "titlePadding": 0}},
                      "text": {"condition": {"test": "isValid(datum.s)", "field": "s", "type": "nominal"}, "value": ""}}}
                  ],
                  "resolve": {"axis": {"y": "independent"}}
                }]},
                {"title": "O", "spacing": -3, "vconcat": [
                  {
                    "width": 165, "height": 97,
                    "transform": [{"filter": "datum.p === 'O'"}],
                    "encoding": {"x": {"field": "g", "type": "nominal", "sort": null, "title": null, "scale": {"paddingInner": 0.34, "paddingOuter": 0.18}, "axis": {"labels": false, "labelPadding": 0, "minExtent": 0, "maxExtent": 0}}},
                    "layer": [
                      {"mark": {"type": "bar", "stroke": "#3c3c3c", "strokeWidth": 1}, "encoding": {
                        "y": {"field": "m", "type": "quantitative", "scale": {"domain": [0, 400]}, "axis": {"orient": "left", "values": [0, 100, 200, 300, 400], "title": "[% of 1g control]"}},
                        "fill": {"condition": [
                          {"test": "datum.g === '1g'", "value": {"gradient": "linear", "x1": 0, "y1": 0, "x2": 1, "y2": 0, "stops": [{"offset": 0, "color": "#e6e6e6"}, {"offset": 0.45, "color": "#ffffff"}, {"offset": 1, "color": "#eeeeee"}]}},
                          {"test": "datum.g === 'AD'", "value": {"gradient": "linear", "x1": 0, "y1": 0, "x2": 1, "y2": 0, "stops": [{"offset": 0, "color": "#9a9a9a"}, {"offset": 0.4, "color": "#dcdcdc"}, {"offset": 1, "color": "#8f8f8f"}]}}],
                          "value": {"gradient": "linear", "x1": 0, "y1": 0, "x2": 1, "y2": 0, "stops": [{"offset": 0, "color": "#333333"}, {"offset": 0.3, "color": "#8a8a8a"}, {"offset": 1, "color": "#1a1a1a"}]}}}},
                      {"mark": {"type": "errorbar", "color": "#808080", "ticks": {"size": 7}}, "encoding": {"y": {"field": "lo", "type": "quantitative", "scale": {"domain": [0, 400]}, "axis": null}, "y2": {"field": "hi"}}},
                      {"mark": {"type": "text", "dy": -3, "baseline": "alphabetic"}, "encoding": {
                        "y": {"field": "hi", "type": "quantitative", "scale": {"domain": [0, 400]}, "axis": {"orient": "left", "title": "JNK1 level", "titleFontWeight": "bold", "labels": false, "ticks": false, "domain": false, "offset": 44, "titlePadding": 0}},
                        "text": {"condition": {"test": "isValid(datum.s)", "field": "s", "type": "nominal"}, "value": ""}}}
                    ],
                    "resolve": {"axis": {"y": "independent"}}
                  },
                  {
                    "width": 165, "height": 12,
                    "transform": [{"filter": "datum.p === 'O'"}],
                    "mark": {"type": "rect", "fill": {"gradient": "linear", "x1": 0, "y1": 0, "x2": 0, "y2": 1, "stops": [{"offset": 0, "color": "#f4f4f4"}, {"offset": 0.22, "color": "#cfcfcf"}, {"offset": 0.4, "color": "#f0f0f0"}, {"offset": 0.62, "color": "#a6a6a6"}, {"offset": 0.85, "color": "#f0f0f0"}, {"offset": 1, "color": "#f7f7f7"}]}},
                    "encoding": {
                      "x": {"field": "g", "type": "nominal", "sort": null, "title": null, "scale": {"paddingInner": 0, "paddingOuter": 0}, "axis": {"tickBand": "extent", "ticks": true, "tickSize": -5, "offset": 5, "labelPadding": 10}},
                      "y": {"field": "kd", "type": "nominal", "title": null, "axis": {"ticks": false, "domain": false, "labelFontSize": 11, "labelPadding": 24}}
                    }
                  }
                ]}
              ]
            }
          ]
        }
      ]
    }
  ]
}
